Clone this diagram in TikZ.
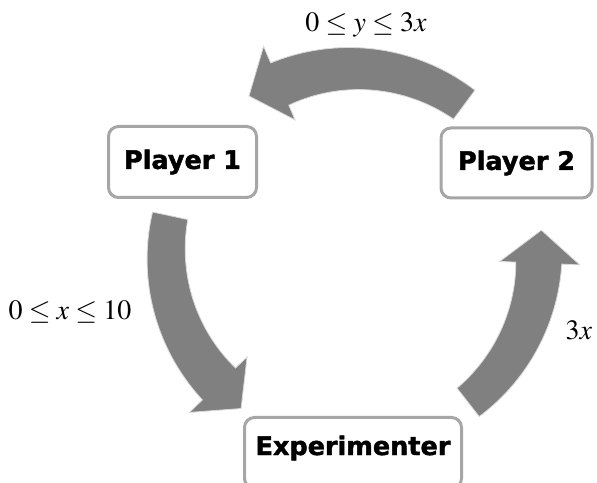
\documentclass[tikz,border=0pt]{standalone}
\usepackage{mathptmx}
\usepackage[no-math]{fontspec}
\newfontfamily\boxfont[BoldFeatures={FakeBold=1.6}]{DejaVu Sans}
\definecolor{arrowgray}{RGB}{128,128,128}
\definecolor{boxgray}{RGB}{166,166,166}
% #1 tail angle, #2 angle of the back of the head
\newcommand{\cycarrow}[2]{%
  \draw[cyclearrow]
    plot[domain=#1:#2, samples=40] (\x:{205+4*(\x-#1)/(#2-#1)})
    -- (#2:227) -- ({#2+10}:190) -- (#2:147)
    -- plot[domain=#2:#1, samples=40] (\x:{169-6*(\x-#1)/(#2-#1)})
    -- cycle;}
\begin{document}
\begin{tikzpicture}[x=1pt,y=1pt,
  cyclearrow/.style={fill=arrowgray, draw=white!85!black, line width=0.8pt, line join=miter},
  agent/.style={draw=boxgray, line width=3pt, fill=white, rounded corners=10pt,
    inner sep=0pt, font=\boxfont\bfseries\fontsize{25.5}{30}\selectfont},
  mlabel/.style={font=\fontsize{28}{32}\selectfont, inner sep=0pt}]
\path[use as bounding box] (0,0) rectangle (597,482);
\clip (0,0) rectangle (597,482);
\fill[white] (0,0) rectangle (597,482);
% cycle arrows
\begin{scope}[shift={(353,227)}]
  \cycarrow{53.5}{113.2}
  \cycarrow{167.9}{223.9}
  \cycarrow{308}{357.5}
\end{scope}
% boxes
\node[agent, minimum width=148pt, minimum height=71pt] (p1) at (182.5,320) {Player 1};
\node[agent, minimum width=151pt, minimum height=70pt] (p2) at (516.5,319) {Player 2};
\node[agent, minimum width=217pt, minimum height=71pt, text height=18pt, text depth=14pt] (ex) at (353,29) {Experimenter};
% labels
\node[mlabel] (ly) at (366,457) {$0\le y\le 3x$};
\node[mlabel] (lx) at (70,170) {$0\le x\le 10$};
\node[mlabel] (l3) at (579,152) {$3x$};
\end{tikzpicture}
\end{document}
